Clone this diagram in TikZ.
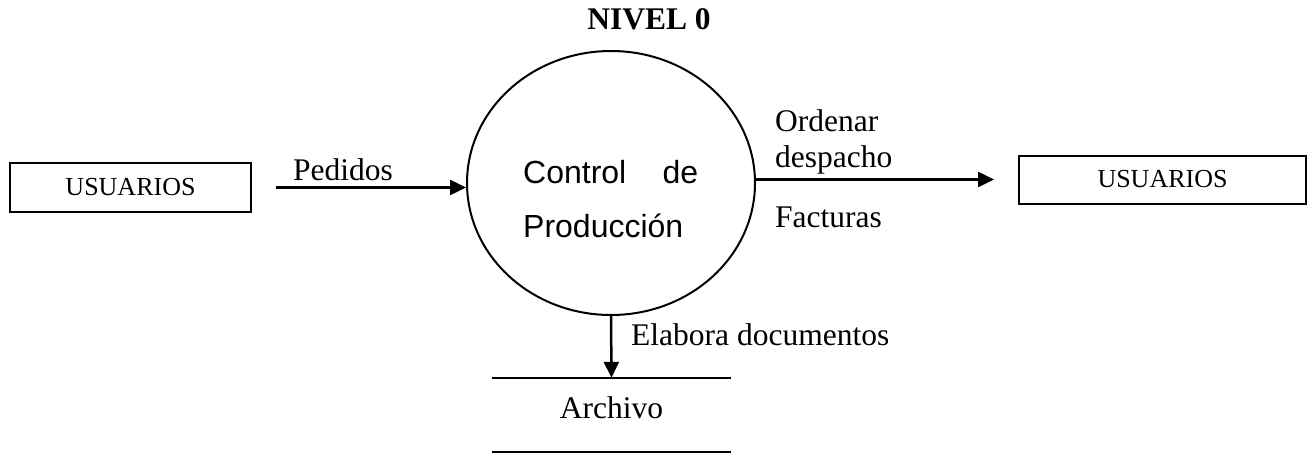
\documentclass[tikz,border=0pt]{standalone}
\usepackage{fontspec}
\setmainfont{Liberation Serif}
\newfontfamily\arialfont{Liberation Sans}
\usetikzlibrary{arrows.meta,shapes.geometric}
\begin{document}
\begin{tikzpicture}[x=1pt,y=-1pt,
  lbl/.style={inner sep=0pt, font=\fontsize{31.5}{36}\selectfont, anchor=base west},
  entity/.style={draw, line width=2pt, inner sep=0pt, font=\fontsize{26}{30}\selectfont},
  flow/.style={line width=2.5pt, -{Triangle[length=16pt,width=15pt]}},
  storeline/.style={line width=2.5pt},
]
\useasboundingbox (0,0) rectangle (1309,455);
% title
\node[inner sep=0pt, anchor=base, font=\bfseries\fontsize{31.5}{36}\selectfont] (title) at (649,29) {NIVEL 0};
% external entities
\node[entity, minimum width=241pt, minimum height=49pt] (uL) at (130.5,187.5) {USUARIOS};
\node[entity, minimum width=287pt, minimum height=48pt] (uR) at (1162.5,179.5) {USUARIOS};
% process
\node[draw, ellipse, line width=2pt, minimum width=288pt, minimum height=264pt, inner sep=0pt] (circ) at (611,183) {};
\node[inner sep=0pt, text width=175pt, align=left, font=\arialfont\fontsize{32}{54}\selectfont, anchor=north west] (ctext) at (523,160) {Control\hfill de\\Producción};
% data store
\node[inner sep=0pt, minimum width=239pt, minimum height=74pt, text height=21.5pt, text depth=15.5pt, font=\fontsize{31.5}{36}\selectfont] (arch) at (611.5,415) {Archivo};
\draw[storeline] (arch.north west) -- (arch.north east);
\draw[storeline] (arch.south west) -- (arch.south east);
% flows
\draw[flow] ([xshift=24pt]uL.east) -- (uL.east -| circ.west);
\draw[flow] (circ.east |- uR.west) -- ([xshift=-24pt]uR.west);
\draw[flow] (circ.south) -- (arch.north);
% labels
\node[lbl] (lped) at (293,180) {Pedidos};
\node[lbl, align=left] (lord) at (775,167) {Ordenar\\despacho};
\node[lbl] (lfac) at (775,227) {Facturas};
\node[lbl] (lela) at (631,345) {Elabora documentos};
\end{tikzpicture}
\end{document}
